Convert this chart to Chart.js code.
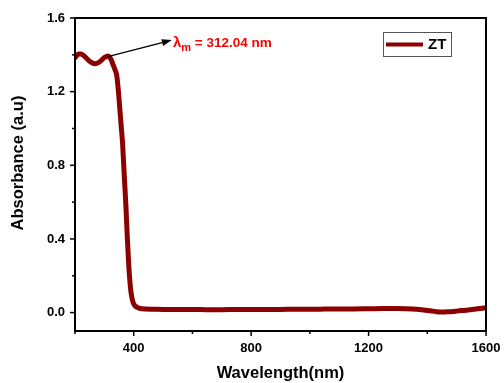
<!DOCTYPE html>
<html>
<head>
<meta charset="utf-8">
<script src="https://cdn.jsdelivr.net/npm/chart.js@4.4.0/dist/chart.umd.min.js"></script>
<style>
html,body{margin:0;padding:0;background:#fff;}
#wrap{width:504px;height:383px;position:relative;}
</style>
</head>
<body>
<div id="wrap"><canvas id="c" width="504" height="383"></canvas></div>
<script>
const wavelength = [200,205,212,220,230,240,250,260,270,280,290,300,308,312,318,324,330,336,342,348,353,358,362,366,370,374,377,380,383,386,390,394,398,404,412,422,440,470,500,550,600,650,700,750,800,850,900,950,1000,1050,1100,1150,1200,1250,1300,1350,1380,1410,1430,1450,1470,1500,1530,1560,1600];
const absorbance = [1.385,1.395,1.405,1.405,1.395,1.38,1.365,1.355,1.352,1.358,1.37,1.385,1.392,1.393,1.388,1.37,1.345,1.32,1.29,1.20,1.10,1.00,0.92,0.80,0.68,0.56,0.45,0.35,0.26,0.19,0.12,0.08,0.055,0.038,0.028,0.022,0.019,0.018,0.017,0.017,0.017,0.016,0.016,0.017,0.017,0.017,0.017,0.018,0.018,0.019,0.02,0.02,0.021,0.022,0.022,0.02,0.016,0.01,0.005,0.003,0.004,0.008,0.013,0.018,0.026];
const seriesName = 'ZT';
const xTicksMajor = [400,800,1200,1600];
const yTicksMajor = [0.0,0.4,0.8,1.2,1.6];
const peakLabel = ['λ','m',' = 312.04 nm'];
const peakPoint = [312, 1.39];
const labelPoint = [530, 1.48];

const FONT = '"Liberation Sans", Arial, sans-serif';
const lineColor = '#8b0000';

const isMult = (v, s) => Math.abs(v / s - Math.round(v / s)) < 1e-6;

const decor = {
  id: 'decor',
  afterDatasetsDraw(chart) {
    const ctx = chart.ctx;
    const a = chart.chartArea;
    const xs = chart.scales.x, ys = chart.scales.y;
    ctx.save();
    // frame
    ctx.strokeStyle = '#000';
    ctx.lineWidth = 2;
    ctx.strokeRect(a.left, a.top, a.right - a.left, a.bottom - a.top);
    // ticks
    ctx.lineWidth = 1.5;
    for (let v = 200; v <= 1600; v += 200) {
      const px = xs.getPixelForValue(v);
      const len = isMult(v, 400) ? 5 : 3;
      ctx.beginPath(); ctx.moveTo(px, a.bottom); ctx.lineTo(px, a.bottom + len); ctx.stroke();
    }
    for (let i = 0; i <= 8; i++) {
      const v = i * 0.2;
      const py = ys.getPixelForValue(v);
      const len = (i % 2 === 0) ? 5 : 3;
      ctx.beginPath(); ctx.moveTo(a.left, py); ctx.lineTo(a.left - len, py); ctx.stroke();
    }
    // axis titles
    ctx.fillStyle = '#000';
    ctx.font = 'bold 16.5px ' + FONT;
    ctx.textAlign = 'center';
    ctx.textBaseline = 'middle';
    ctx.fillText('Wavelength(nm)', (a.left + a.right) / 2, 373);
    ctx.save();
    ctx.translate(18, 163);
    ctx.rotate(-Math.PI / 2);
    ctx.fillText('Absorbance (a.u)', 0, 0);
    ctx.restore();
    // legend
    ctx.lineWidth = 1;
    ctx.strokeStyle = '#555';
    ctx.strokeRect(383.5, 32.5, 68, 24);
    ctx.strokeStyle = lineColor;
    ctx.lineWidth = 4;
    ctx.beginPath(); ctx.moveTo(386, 44.5); ctx.lineTo(423, 44.5); ctx.stroke();
    ctx.fillStyle = '#000';
    ctx.font = 'bold 15px ' + FONT;
    ctx.textAlign = 'left';
    ctx.fillText(seriesName, 428, 45);
    // annotation arrow
    const x0 = xs.getPixelForValue(peakPoint[0]), y0 = ys.getPixelForValue(peakPoint[1]);
    const x1 = xs.getPixelForValue(labelPoint[0]), y1 = ys.getPixelForValue(labelPoint[1]);
    ctx.strokeStyle = '#000';
    ctx.lineWidth = 1.3;
    const ang = Math.atan2(y1 - y0, x1 - x0);
    const hl = 10, hw = 3.5;
    const bx = x1 - hl * Math.cos(ang), by = y1 - hl * Math.sin(ang);
    ctx.beginPath(); ctx.moveTo(x0, y0); ctx.lineTo(bx, by); ctx.stroke();
    ctx.fillStyle = '#000';
    ctx.beginPath();
    ctx.moveTo(x1, y1);
    ctx.lineTo(bx - hw * Math.sin(ang), by + hw * Math.cos(ang));
    ctx.lineTo(bx + hw * Math.sin(ang), by - hw * Math.cos(ang));
    ctx.closePath(); ctx.fill();
    // label
    ctx.fillStyle = '#ff0000';
    ctx.textBaseline = 'alphabetic';
    let tx = x1 + 1;
    const base = y1 + 7;
    ctx.font = 'bold 15px ' + FONT;
    ctx.fillText(peakLabel[0], tx, base); tx += ctx.measureText(peakLabel[0]).width;
    ctx.font = 'bold 11px ' + FONT;
    ctx.fillText(peakLabel[1], tx, base + 4); tx += ctx.measureText(peakLabel[1]).width;
    ctx.font = 'bold 13.5px ' + FONT;
    ctx.fillText(peakLabel[2], tx, base);
    ctx.restore();
  }
};

new Chart(document.getElementById('c'), {
  type: 'line',
  data: {
    datasets: [{
      label: seriesName,
      data: wavelength.map((w, i) => ({x: w, y: absorbance[i]})),
      borderColor: lineColor,
      backgroundColor: lineColor,
      borderWidth: 5,
      pointRadius: 0,
      cubicInterpolationMode: 'monotone',
      borderCapStyle: 'round',
      borderJoinStyle: 'round'
    }]
  },
  options: {
    responsive: false,
    animation: false,
    devicePixelRatio: 1,
    layout: {padding: {left: 0, right: 18, top: 18, bottom: 0}},
    plugins: {legend: {display: false}, tooltip: {enabled: false}},
    scales: {
      x: {
        type: 'linear', min: 200, max: 1600,
        afterFit(s) { s.height = 52; s.paddingLeft = 0; s.paddingRight = 0; },
        grid: {display: false, drawTicks: false},
        border: {display: false},
        ticks: {
          stepSize: 200, padding: 10, color: '#000', maxRotation: 0, autoSkip: false,
          font: {family: FONT, size: 13, weight: 'bold'},
          callback: (v) => xTicksMajor.includes(v) ? String(v) : ''
        }
      },
      y: {
        type: 'linear', min: -0.1, max: 1.6,
        afterFit(s) { s.width = 75; s.paddingTop = 0; s.paddingBottom = 0; },
        grid: {display: false, drawTicks: false},
        border: {display: false},
        ticks: {
          stepSize: 0.2, padding: 10, color: '#000', autoSkip: false,
          font: {family: FONT, size: 13, weight: 'bold'},
          callback: (v) => yTicksMajor.some(t => Math.abs(t - v) < 1e-6) ? Number(v).toFixed(1) : ''
        }
      }
    }
  },
  plugins: [decor]
});
</script>
</body>
</html>
